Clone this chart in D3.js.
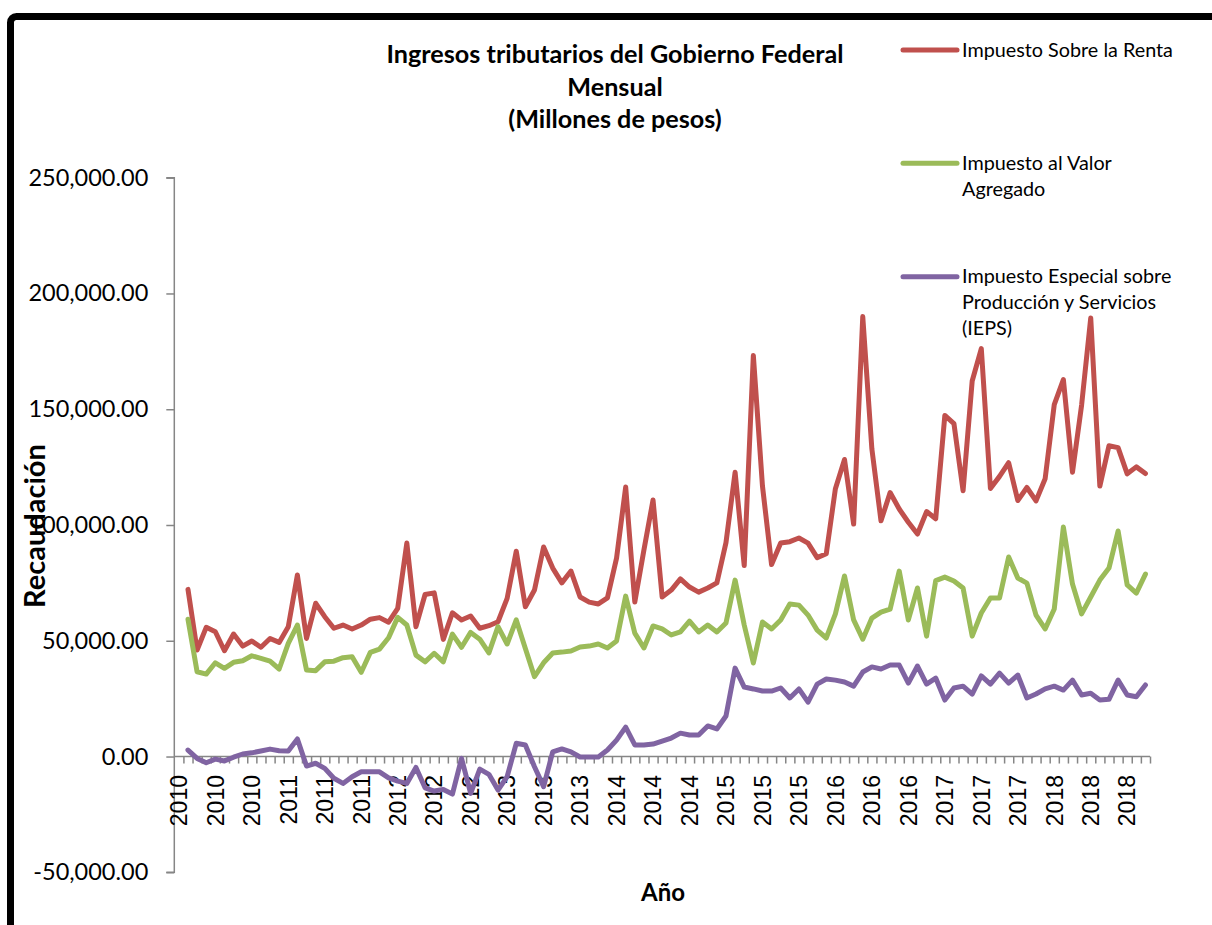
<!DOCTYPE html>
<html>
<head>
<meta charset="utf-8">
<script src="https://cdn.jsdelivr.net/npm/d3@7"></script>
<style>
  html, body { margin: 0; padding: 0; background: #fff; }
  svg { display: block; }
</style>
</head>
<body>
<svg id="chart" width="1212" height="925"></svg>
<script>
// Monthly federal tax revenue, millions of pesos, Jan 2010 – Nov 2018.
const years = [2010, 2011, 2012, 2013, 2014, 2015, 2016, 2017, 2018];
const monthCount = 107; // Jan 2010 .. Nov 2018
const months = d3.range(monthCount).map(i => ({ idx: i, year: years[Math.floor(i / 12)] }));

// Impuesto Sobre la Renta (first month has no record)
const isr = [null,
  72200, 46000, 55800, 53900, 45700, 52900, 47700, 49900, 47200, 51000, 49300,
  56100, 78400, 51000, 66200, 60400, 55400, 56800, 55100, 56800, 59300, 60000, 58000,
  64000, 92200, 56100, 70000, 70700, 50600, 62100, 59000, 60700, 55400, 56500, 58200,
  68300, 88700, 64700, 71900, 90500, 81400, 75000, 80100, 68900, 66700, 65900, 68500,
  85700, 116400, 66700, 89200, 110800, 68900, 71900, 76700, 73200, 71000, 72800, 75000,
  92400, 122800, 82500, 173200, 116900, 82900, 92200, 92800, 94400, 92200, 85900, 87600,
  115700, 128300, 100400, 190000, 132800, 101800, 114000, 106900, 101200, 96100, 105800, 102700,
  147300, 143800, 114800, 162200, 176200, 115800, 121000, 126900, 110600, 116200, 110400, 120000,
  152000, 162800, 122800, 151800, 189400, 116800, 134200, 133400, 122100, 125100, 122200
];

// Impuesto al Valor Agregado
const iva = [null,
  59300, 36600, 35600, 40500, 38100, 40700, 41400, 43500, 42400, 41200, 37800,
  48900, 56800, 37400, 37100, 40900, 41200, 42700, 43100, 36400, 45000, 46400, 51300,
  60100, 56800, 43800, 40900, 44600, 40900, 52900, 47200, 53600, 50700, 44800, 56100,
  48600, 59000, 46700, 34500, 40500, 44700, 45100, 45600, 47300, 47700, 48600, 46900,
  49900, 69300, 53300, 46900, 56400, 55100, 52500, 53800, 58500, 53800, 56800, 53800,
  57700, 76200, 56800, 40400, 58100, 55100, 59000, 65900, 65400, 61100, 54600, 51200,
  61600, 78000, 59000, 50700, 59800, 62400, 63700, 80100, 59000, 72800, 52000, 76000,
  77500, 75800, 72800, 52000, 62000, 68500, 68500, 86200, 77100, 74900, 61100, 55100,
  63700, 99100, 74500, 61600, 68900, 76200, 81400, 97400, 74100, 70600, 78800
];

// Impuesto Especial sobre Producción y Servicios
const ieps = [null,
  2800, -800, -2700, -1100, -1900, -300, 1100, 1600, 2400, 3200, 2500,
  2400, 7600, -4100, -2900, -5100, -9400, -11600, -8700, -6600, -6600, -6600, -9200,
  -10600, -11600, -4700, -13500, -14900, -14200, -16200, -800, -15900, -5400, -7700, -14500,
  -8700, 5700, 5000, -4400, -13000, 2000, 3300, 2000, -200, -200, -200, 2800,
  7100, 12700, 5000, 5000, 5400, 6700, 8000, 10100, 9300, 9300, 13200, 11900,
  17500, 38200, 30000, 29200, 28300, 28300, 29600, 25300, 29200, 23500, 31300, 33500,
  33000, 32200, 30400, 36500, 38700, 37800, 39500, 39500, 31700, 39100, 31300, 33900,
  24400, 29600, 30400, 27000, 34800, 31300, 36000, 31700, 35200, 25300, 27000, 29200,
  30400, 28700, 33000, 26600, 27300, 24400, 24700, 33000, 26600, 25800, 30900
];

const yTicks = [-50000, 0, 50000, 100000, 150000, 200000, 250000];

const seriesNames = [
  ["Impuesto Sobre la Renta"],
  ["Impuesto al Valor", "Agregado"],
  ["Impuesto Especial sobre", "Producción y Servicios", "(IEPS)"]
];
const seriesColors = ["#C0504D", "#9BBB59", "#8064A2"];
const seriesValues = [isr, iva, ieps];

// number format with a plain hyphen for negatives
const fmt = d3.formatLocale({ decimal: ".", thousands: ",", grouping: [3], currency: ["$", ""], minus: "-" }).format(",.2f");

const svg = d3.select("#chart");

// outer frame
svg.append("rect")
  .attr("x", 10.5).attr("y", 16.5)
  .attr("width", 1400).attr("height", 1100)
  .attr("rx", 6)
  .attr("fill", "none").attr("stroke", "#000").attr("stroke-width", 7);

const plotLeft = 174.3, plotRight = 1150, plotTop = 177.7, plotBottom = 872.3;

const x = d3.scaleBand().domain(months.map(m => m.idx)).range([plotLeft, plotRight]).paddingInner(0).paddingOuter(0);
const xc = i => x(i) + x.bandwidth() / 2;
const y = d3.scaleLinear().domain([-50000, 250000]).range([plotBottom, plotTop]);

const axisColor = "#868686";

// vertical axis
const yAxis = svg.append("g")
  .attr("transform", `translate(${plotLeft},0)`)
  .call(d3.axisLeft(y).tickValues(yTicks).tickSize(8).tickPadding(18).tickFormat(fmt));
yAxis.select(".domain").attr("stroke", axisColor).attr("stroke-width", 1.5).attr("d", `M-8,${plotTop}H0V${plotBottom}H-8`);
yAxis.selectAll(".tick line").attr("stroke", axisColor).attr("stroke-width", 1.5);
yAxis.selectAll(".tick text")
  .attr("fill", "#000")
  .style("font-family", "Lato, 'Open Sans', sans-serif")
  .style("font-size", "23.5px");

// horizontal axis at zero: tick marks at category boundaries
const xEdges = d3.scaleLinear().domain([0, monthCount]).range([plotLeft, plotRight]);
const xAxisTicks = svg.append("g")
  .attr("transform", `translate(0,${y(0)})`)
  .call(d3.axisBottom(xEdges).tickValues(d3.range(1, monthCount + 1)).tickSize(7).tickFormat(""));
xAxisTicks.select(".domain").attr("stroke", axisColor).attr("stroke-width", 1.5).attr("d", `M${plotLeft},0H${plotRight}`);
xAxisTicks.selectAll(".tick line").attr("stroke", axisColor).attr("stroke-width", 1.5);

// year labels every fourth month
const xAxisLabels = svg.append("g")
  .attr("transform", `translate(0,${y(0)})`)
  .call(d3.axisBottom(x)
    .tickValues(months.filter(m => m.idx % 4 === 0).map(m => m.idx))
    .tickSize(0)
    .tickFormat(i => months[i].year));
xAxisLabels.select(".domain").remove();
xAxisLabels.selectAll(".tick text")
  .attr("transform", "rotate(-90)")
  .attr("text-anchor", "end")
  .attr("x", -18.5)
  .attr("y", 0)
  .attr("dy", "0.36em")
  .attr("fill", "#000")
  .style("font-family", "'Liberation Sans', Arial, sans-serif")
  .style("font-size", "23px");

// series lines
const line = d3.line()
  .defined(d => d != null)
  .x((d, i) => xc(i))
  .y(d => y(d));

seriesValues.forEach((vals, s) => {
  svg.append("path")
    .datum(vals)
    .attr("fill", "none")
    .attr("stroke", seriesColors[s])
    .attr("stroke-width", 5)
    .attr("stroke-linejoin", "round")
    .attr("stroke-linecap", "round")
    .attr("d", line);
});

// title
const title = ["Ingresos tributarios del Gobierno Federal", "Mensual", "(Millones de pesos)"];
svg.append("text")
  .attr("text-anchor", "middle")
  .style("font-family", "Lato, 'Open Sans', sans-serif")
  .style("font-weight", "bold")
  .style("font-size", "25.2px")
  .selectAll("tspan").data(title).join("tspan")
  .attr("x", 615)
  .attr("y", (d, i) => 63 + i * 32.5)
  .text(d => d);

// legend
const legendY = [50, 163.3, 276.7];
seriesNames.forEach((lines, s) => {
  svg.append("line")
    .attr("x1", 903).attr("x2", 957)
    .attr("y1", legendY[s]).attr("y2", legendY[s])
    .attr("stroke", seriesColors[s]).attr("stroke-width", 5)
    .attr("stroke-linecap", "round");
  svg.append("text")
    .style("font-family", "Lato, 'Open Sans', sans-serif")
    .style("font-size", "19.8px")
    .attr("fill", "#000")
    .selectAll("tspan").data(lines).join("tspan")
    .attr("x", 962)
    .attr("y", (d, i) => legendY[s] + 6.5 + i * 25.8)
    .text(d => d);
});

// axis titles
svg.append("text")
  .attr("transform", "translate(45,526) rotate(-90)")
  .attr("text-anchor", "middle")
  .style("font-family", "Lato, 'Open Sans', sans-serif")
  .style("font-weight", "bold")
  .style("font-size", "29px")
  .text("Recaudación");

svg.append("text")
  .attr("x", 663).attr("y", 901)
  .attr("text-anchor", "middle")
  .style("font-family", "Lato, 'Open Sans', sans-serif")
  .style("font-weight", "bold")
  .style("font-size", "24px")
  .text("Año");
</script>
</body>
</html>
